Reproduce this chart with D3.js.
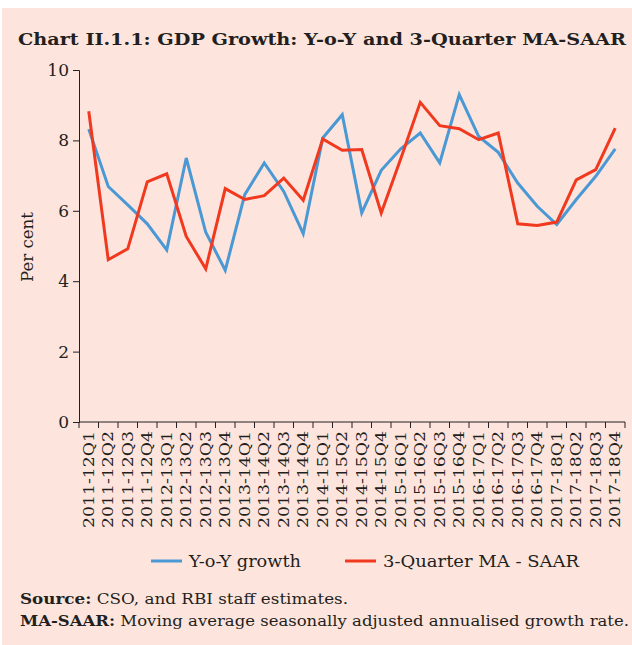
<!DOCTYPE html>
<html>
<head>
<meta charset="utf-8">
<script src="https://cdnjs.cloudflare.com/ajax/libs/d3/7.8.5/d3.min.js"></script>
<style>
  body { margin: 0; background: #fff; }
  svg { display: block; font-family: "DejaVu Serif", serif; }
</style>
</head>
<body>
<script>
// Quarters 2011-12 Q1 .. 2017-18 Q4
var quarters = ["2011-12Q1","2011-12Q2","2011-12Q3","2011-12Q4",
  "2012-13Q1","2012-13Q2","2012-13Q3","2012-13Q4",
  "2013-14Q1","2013-14Q2","2013-14Q3","2013-14Q4",
  "2014-15Q1","2014-15Q2","2014-15Q3","2014-15Q4",
  "2015-16Q1","2015-16Q2","2015-16Q3","2015-16Q4",
  "2016-17Q1","2016-17Q2","2016-17Q3","2016-17Q4",
  "2017-18Q1","2017-18Q2","2017-18Q3","2017-18Q4"];

var yoy = [8.32, 6.69, 6.17, 5.63, 4.89, 7.50, 5.39, 4.31,
  6.46, 7.36, 6.55, 5.35, 8.07, 8.73, 5.94, 7.15,
  7.76, 8.21, 7.36, 9.30, 8.11, 7.66, 6.79, 6.13,
  5.61, 6.32, 6.98, 7.76];

var maSaar = [8.83, 4.61, 4.92, 6.82, 7.05, 5.27, 4.35, 6.63,
  6.32, 6.43, 6.93, 6.30, 8.04, 7.72, 7.74, 5.94,
  7.48, 9.08, 8.42, 8.33, 8.02, 8.21, 5.63, 5.58,
  5.68, 6.88, 7.17, 8.35];

var yTicks = [0, 2, 4, 6, 8, 10];

var W = 632, H = 645;
var margin = {top: 70, right: 7, bottom: 223, left: 79};
var width = W - margin.left - margin.right,
    height = H - margin.top - margin.bottom;

var ink = "#231f20";

var svg = d3.select("body").append("svg")
    .attr("width", W)
    .attr("height", H);

// pink panel
svg.append("rect")
    .attr("x", 2).attr("y", 8)
    .attr("width", W - 2).attr("height", H - 8)
    .attr("fill", "#fde5de");

svg.append("text")
    .attr("x", 18).attr("y", 45)
    .attr("font-weight", "bold")
    .attr("font-size", 16.5)
    .attr("fill", ink)
    .attr("textLength", 608)
    .attr("lengthAdjust", "spacingAndGlyphs")
    .text("Chart II.1.1: GDP Growth: Y-o-Y and 3-Quarter MA-SAAR");

var g = svg.append("g")
    .attr("transform", "translate(" + margin.left + "," + margin.top + ")");

var x = d3.scaleBand().domain(quarters).range([0, width]).padding(0);
var y = d3.scaleLinear().domain([0, 10]).range([height, 0]);

// Y axis
var yAxis = g.append("g")
    .call(d3.axisLeft(y).tickValues(yTicks).tickSize(6).tickPadding(4));
yAxis.select(".domain").attr("stroke", ink);
yAxis.selectAll(".tick line").attr("stroke", ink);
yAxis.selectAll(".tick text")
    .attr("font-size", 17)
    .attr("font-family", "DejaVu Serif, serif")
    .attr("fill", ink);

// X axis
var xAxis = g.append("g")
    .attr("transform", "translate(0," + height + ")")
    .call(d3.axisBottom(x).tickSize(0).tickPadding(0));
xAxis.select(".domain").attr("stroke", ink).attr("d", "M0,0H" + width);
xAxis.selectAll(".tick text")
    .attr("font-size", 14.5)
    .attr("font-family", "DejaVu Serif, serif")
    .attr("fill", ink)
    .attr("transform", "rotate(-90)")
    .attr("text-anchor", "end")
    .attr("textLength", 97)
    .attr("lengthAdjust", "spacingAndGlyphs")
    .attr("dx", -9)
    .attr("dy", "0.35em")
    .attr("y", 0)
    .attr("x", 0);

// band-boundary tick marks
var bounds = quarters.map(function(q) { return x(q); }).concat([width]);
xAxis.selectAll(".bt").data(bounds).enter().append("line")
    .attr("class", "bt")
    .attr("x1", function(d) { return d; })
    .attr("x2", function(d) { return d; })
    .attr("y1", 0).attr("y2", 6)
    .attr("stroke", ink);

var cx = function(d, i) { return x(quarters[i]) + x.bandwidth() / 2; };

var line = d3.line()
    .x(cx)
    .y(function(d) { return y(d); });

g.append("path")
    .datum(yoy)
    .attr("fill", "none")
    .attr("stroke", "#4a98d4")
    .attr("stroke-width", 3)
    .attr("d", line);

g.append("path")
    .datum(maSaar)
    .attr("fill", "none")
    .attr("stroke", "#f0391f")
    .attr("stroke-width", 3)
    .attr("d", line);

// Y label
svg.append("text")
    .attr("transform", "translate(33,247) rotate(-90)")
    .attr("text-anchor", "middle")
    .attr("font-size", 17)
    .attr("fill", ink)
    .attr("textLength", 70)
    .attr("lengthAdjust", "spacingAndGlyphs")
    .text("Per cent");

// Legend
var legend = [
  {label: "Y-o-Y growth", color: "#4a98d4", x: 151, len: 112},
  {label: "3-Quarter MA - SAAR", color: "#f0391f", x: 345, len: 196}
];
var lg = svg.append("g").attr("transform", "translate(0,561)");
legend.forEach(function(l) {
  lg.append("line")
      .attr("x1", l.x).attr("x2", l.x + 31)
      .attr("y1", 0).attr("y2", 0)
      .attr("stroke", l.color).attr("stroke-width", 3);
  lg.append("text")
      .attr("x", l.x + 38).attr("y", 6)
      .attr("font-size", 17)
      .attr("fill", ink)
      .attr("textLength", l.len)
      .attr("lengthAdjust", "spacingAndGlyphs")
      .text(l.label);
});

// Notes
var n1 = svg.append("text").attr("x", 20).attr("y", 604)
    .attr("font-size", 15.5).attr("fill", ink)
    .attr("textLength", 328).attr("lengthAdjust", "spacingAndGlyphs");
n1.append("tspan").attr("font-weight", "bold").text("Source:");
n1.append("tspan").text(" CSO, and RBI staff estimates.");

var n2 = svg.append("text").attr("x", 20).attr("y", 626)
    .attr("font-size", 15.5).attr("fill", ink)
    .attr("textLength", 609).attr("lengthAdjust", "spacingAndGlyphs");
n2.append("tspan").attr("font-weight", "bold").text("MA-SAAR:");
n2.append("tspan").text(" Moving average seasonally adjusted annualised growth rate.");
</script>
</body>
</html>
